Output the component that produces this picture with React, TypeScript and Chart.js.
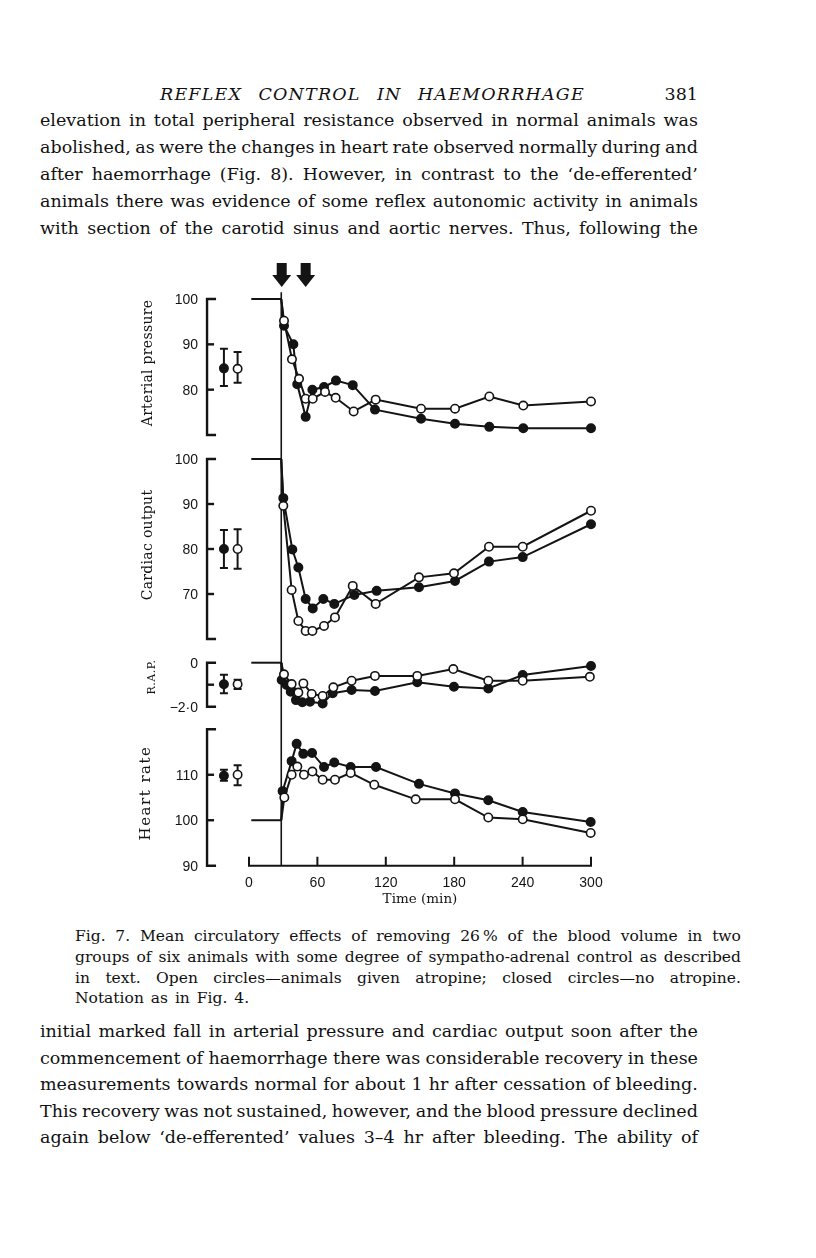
import React, { useEffect, useRef } from "react";
import { Chart, registerables } from "chart.js";

Chart.register(...registerables);

// ---------------- DATA ----------------
// Time axis (min)
const X_TICKS = [0, 60, 120, 180, 240, 300];
const BLEED_T = 28.3; // start of haemorrhage (vertical line)
const ARROW_T = [28.7, 49.7];
const BASE_START_T = 2;
const CTRL_T = [-22, -10]; // control error bars: closed, open

// Arterial pressure (% control)
const AP_TICKS = [100, 90, 80, 70];
const AP_TICK_LABELS = ["100", "90", "80", ""];
const AP_BASE = 100;
const AP_CLOSED_T = [30.7, 38.9, 42.3, 49.7, 55.6, 65.8, 76.3, 91, 110.5, 150.9, 180.7, 210.8, 240.6, 300];
const AP_CLOSED = [94.1, 90.0, 81.2, 74.0, 80.0, 80.6, 82.0, 81.0, 75.6, 73.6, 72.5, 71.8, 71.5, 71.5];
const AP_OPEN_T = [30.7, 37.7, 43.9, 49.7, 55.9, 66.7, 76, 91.8, 111.1, 150.9, 180.7, 210.8, 240.6, 300];
const AP_OPEN = [95.2, 86.7, 82.4, 78.0, 78.0, 79.5, 78.2, 75.2, 77.8, 75.8, 75.8, 78.5, 76.5, 77.4];
const AP_CTRL_CLOSED = [84.7, 80.8, 89.0]; // mean, low, high
const AP_CTRL_OPEN = [84.6, 81.5, 88.3];

// Cardiac output (% control)
const CO_TICKS = [100, 90, 80, 70, 60];
const CO_TICK_LABELS = ["100", "90", "80", "70", ""];
const CO_BASE = 100;
const CO_CLOSED_T = [30.1, 38, 43.3, 49.7, 55.9, 65.2, 74.8, 92.4, 112, 149.1, 180.7, 210.5, 240.1, 300];
const CO_CLOSED = [91.3, 79.9, 75.9, 68.9, 66.8, 68.9, 67.8, 69.8, 70.7, 71.5, 72.9, 77.2, 78.2, 85.5];
const CO_OPEN_T = [30.1, 37.4, 43.3, 49.7, 55.6, 65.8, 75.4, 91, 111.1, 149.1, 179.8, 210.5, 240.1, 300];
const CO_OPEN = [89.6, 70.9, 64.0, 61.8, 61.8, 62.9, 64.8, 71.8, 67.8, 73.7, 74.6, 80.5, 80.5, 88.5];
const CO_CTRL_CLOSED = [80, 75.8, 84.2];
const CO_CTRL_OPEN = [80, 75.6, 84.4];

// Right atrial pressure (change)
const RAP_TICKS = [0, -1, -2];
const RAP_TICK_LABELS = ["0", "", "\u22122\u00b70"];
const RAP_BASE = 0;
const RAP_CLOSED_T = [28.7, 33, 36.6, 41.2, 46.8, 53.5, 64.6, 73.4, 90, 110.5, 147.6, 179.8, 209.9, 240.1, 300];
const RAP_CLOSED = [-0.79, -1.01, -1.32, -1.7, -1.8, -1.77, -1.85, -1.39, -1.24, -1.29, -0.89, -1.09, -1.17, -0.56, -0.15];
const RAP_OPEN_T = [30.7, 37.4, 43.3, 47.7, 55, 64.6, 74, 90, 110.5, 147.6, 179.2, 209.9, 240.1, 299];
const RAP_OPEN = [-0.53, -0.97, -1.36, -0.94, -1.42, -1.51, -1.12, -0.82, -0.6, -0.6, -0.29, -0.82, -0.82, -0.64];
const RAP_CTRL_CLOSED = [-0.98, -1.39, -0.55];
const RAP_CTRL_OPEN = [-0.98, -1.2, -0.78];

// Heart rate (% control)
const HR_TICKS = [120, 110, 100, 90];
const HR_TICK_LABELS = ["", "110", "100", "90"];
const HR_BASE = 100;
const HR_CLOSED_T = [29.5, 37.4, 41.8, 47.6, 55.3, 65.8, 74.8, 89.2, 111.4, 149.1, 180.7, 209.9, 240.1, 299.7];
const HR_CLOSED = [106.4, 113, 116.8, 114.6, 114.8, 111.7, 112.7, 111.7, 111.7, 108, 105.9, 104.4, 101.8, 99.6];
const HR_OPEN_T = [31, 37.4, 42.4, 48.2, 55.6, 64.6, 75.4, 89.2, 109.9, 146.2, 180.7, 209.9, 240.1, 299.7];
const HR_OPEN = [105, 110, 111.8, 110, 110.7, 108.9, 108.9, 110.4, 107.8, 104.6, 104.6, 100.6, 100.2, 97.2];
const HR_CTRL_CLOSED = [109.8, 108.7, 111.1];
const HR_CTRL_OPEN = [110, 107.7, 112.1];

// ---------------- TEXT ----------------
const HEADER_WORDS = ["REFLEX", "CONTROL", "IN", "HAEMORRHAGE"];
const PAGE_NO = "381";
const TOP_LINES = [
  "elevation in total peripheral resistance observed in normal animals was",
  "abolished, as were the changes in heart rate observed normally during and",
  "after haemorrhage (Fig. 8). However, in contrast to the \u2018de-efferented\u2019",
  "animals there was evidence of some reflex autonomic activity in animals",
  "with section of the carotid sinus and aortic nerves. Thus, following the",
];
const CAPTION_LINES = [
  "Fig. 7. Mean circulatory effects of removing 26\u2009% of the blood volume in two",
  "groups of six animals with some degree of sympatho-adrenal control as described",
  "in text. Open circles\u2014animals given atropine; closed circles\u2014no atropine.",
];
const CAPTION_LAST = "Notation as in Fig. 4.";
const BOTTOM_LINES = [
  "initial marked fall in arterial pressure and cardiac output soon after the",
  "commencement of haemorrhage there was considerable recovery in these",
  "measurements towards normal for about 1 hr after cessation of bleeding.",
  "This recovery was not sustained, however, and the blood pressure declined",
  "again below \u2018de-efferented\u2019 values 3\u20134 hr after bleeding. The ability of",
];
const X_TITLE = "Time (min)";

// ---------------- LAYOUT ----------------
const INK = "#141414";
const SERIF = '"DejaVu Serif", "Liberation Serif", serif';
const SANS = '"Liberation Sans", Arial, sans-serif';

const CANVAS_LEFT = 100;
const CANVAS_TOP = 250;
const CANVAS_W = 540;
const CANVAS_H = 670;

const X0_PX = 249; // page x of t=0
const PX_PER_MIN = 1.14;
const X_MIN = -40;
const X_MAX = 305;
const AREA_TOP = 258; // page y
const AREA_BOTTOM = 875; // page y
const Y_AXIS_T = -36.8;

function yRange(vHi: number, pHi: number, vLo: number, pLo: number) {
  const k = (pLo - pHi) / (vHi - vLo);
  return { min: vLo - (AREA_BOTTOM - pLo) / k, max: vHi + (pHi - AREA_TOP) / k };
}

const PANELS = [
  { id: "yAP", range: yRange(100, 299, 70, 435), ticks: AP_TICKS, labels: AP_TICK_LABELS, title: "Arterial pressure", tx: 148, ty: 363, tfont: `14px ${SERIF}`, spacing: "0.3px", ctrlC: AP_CTRL_CLOSED, ctrlO: AP_CTRL_OPEN },
  { id: "yCO", range: yRange(100, 459, 60, 639), ticks: CO_TICKS, labels: CO_TICK_LABELS, title: "Cardiac output", tx: 148, ty: 545, tfont: `14px ${SERIF}`, spacing: "0.3px", ctrlC: CO_CTRL_CLOSED, ctrlO: CO_CTRL_OPEN },
  { id: "yRAP", range: yRange(0, 662.7, -2, 706.7), ticks: RAP_TICKS, labels: RAP_TICK_LABELS, title: "R.A.P.", tx: 152, ty: 677, tfont: `11px ${SERIF}`, spacing: "0.5px", ctrlC: RAP_CTRL_CLOSED, ctrlO: RAP_CTRL_OPEN },
  { id: "yHR", range: yRange(120, 729.3, 90, 865.7), ticks: HR_TICKS, labels: HR_TICK_LABELS, title: "Heart rate", tx: 146, ty: 793, tfont: `15px ${SERIF}`, spacing: "1.5px", ctrlC: HR_CTRL_CLOSED, ctrlO: HR_CTRL_OPEN },
];

const framePlugin = {
  id: "frame",
  beforeDatasetsDraw(chart: any) {
    const ctx = chart.ctx as CanvasRenderingContext2D;
    const xs = chart.scales.x;
    const cx = (t: number) => xs.getPixelForValue(t);
    const ax = cx(Y_AXIS_T);
    ctx.save();
    ctx.strokeStyle = INK;
    ctx.fillStyle = INK;
    ctx.lineCap = "butt";
    for (const p of PANELS) {
      const ys = chart.scales[p.id];
      const vTop = p.ticks[0];
      const vBot = p.ticks[p.ticks.length - 1];
      const yTop = ys.getPixelForValue(vTop);
      const yBot = ys.getPixelForValue(vBot);
      ctx.lineWidth = 2.4;
      ctx.beginPath();
      ctx.moveTo(ax + 9, yTop);
      ctx.lineTo(ax, yTop);
      ctx.lineTo(ax, yBot);
      ctx.lineTo(ax + 9, yBot);
      ctx.stroke();
      for (let i = 1; i < p.ticks.length - 1; i++) {
        const y = ys.getPixelForValue(p.ticks[i]);
        ctx.beginPath();
        ctx.moveTo(ax - 1, y);
        ctx.lineTo(ax + 7, y);
        ctx.stroke();
      }
      ctx.font = `14px ${SANS}`;
      ctx.textAlign = "right";
      ctx.textBaseline = "middle";
      p.ticks.forEach((v, i) => {
        if (p.labels[i]) ctx.fillText(p.labels[i], ax - 9, ys.getPixelForValue(v) + 1);
      });
      // axis title
      ctx.save();
      ctx.translate(p.tx - CANVAS_LEFT, p.ty - CANVAS_TOP);
      ctx.rotate(-Math.PI / 2);
      ctx.font = p.tfont;
      (ctx as any).letterSpacing = p.spacing;
      ctx.textAlign = "center";
      ctx.textBaseline = "middle";
      ctx.fillText(p.title, 0, 0);
      ctx.restore();
      // control whiskers
      ctx.lineWidth = 2;
      [p.ctrlC, p.ctrlO].forEach((c, j) => {
        const x = cx(CTRL_T[j]);
        const yl = ys.getPixelForValue(c[1]);
        const yh = ys.getPixelForValue(c[2]);
        ctx.beginPath();
        ctx.moveTo(x, yl);
        ctx.lineTo(x, yh);
        ctx.moveTo(x - 4, yl);
        ctx.lineTo(x + 4, yl);
        ctx.moveTo(x - 4, yh);
        ctx.lineTo(x + 4, yh);
        ctx.stroke();
      });
    }
    // vertical haemorrhage line
    const vx = cx(BLEED_T);
    ctx.lineWidth = 1.6;
    ctx.beginPath();
    ctx.moveTo(vx, chart.scales.yAP.getPixelForValue(101.5));
    ctx.lineTo(vx, chart.scales.yHR.getPixelForValue(90));
    ctx.stroke();
    // x axis
    const xy = chart.scales.yHR.getPixelForValue(90);
    ctx.lineWidth = 2;
    ctx.beginPath();
    ctx.moveTo(cx(X_TICKS[0]) - 1, xy);
    ctx.lineTo(cx(X_TICKS[X_TICKS.length - 1]) + 1, xy);
    for (const t of X_TICKS) {
      ctx.moveTo(cx(t), xy);
      ctx.lineTo(cx(t), xy - 9);
    }
    ctx.stroke();
    ctx.font = `14px ${SANS}`;
    ctx.textAlign = "center";
    ctx.textBaseline = "middle";
    for (const t of X_TICKS) ctx.fillText(String(t), cx(t), xy + 17);
    ctx.font = `13.5px ${SERIF}`;
    ctx.fillText(X_TITLE, cx(150), 899 - CANVAS_TOP);
    // arrows
    for (const t of ARROW_T) {
      const x = cx(t);
      const y0 = 263 - CANVAS_TOP, y1 = 275 - CANVAS_TOP, y2 = 287 - CANVAS_TOP;
      ctx.beginPath();
      ctx.moveTo(x - 5, y0);
      ctx.lineTo(x + 5, y0);
      ctx.lineTo(x + 5, y1);
      ctx.lineTo(x + 9.5, y1);
      ctx.lineTo(x, y2);
      ctx.lineTo(x - 9.5, y1);
      ctx.lineTo(x - 5, y1);
      ctx.closePath();
      ctx.fill();
    }
    ctx.restore();
  },
};

function series(ts: number[], vs: number[], base: number, yAxisID: string, open: boolean) {
  const data = [{ x: BLEED_T, y: base }, ...ts.map((t, i) => ({ x: t, y: vs[i] }))];
  return {
    data,
    yAxisID,
    borderColor: INK,
    borderWidth: 2,
    pointRadius: data.map((_, i) => (i === 0 ? 0 : 4.2)),
    pointBackgroundColor: open ? "#ffffff" : INK,
    pointBorderColor: INK,
    pointBorderWidth: 1.6,
    tension: 0,
    order: open ? 1 : 2,
    clip: false as any,
  };
}

function baseline(base: number, yAxisID: string) {
  return {
    data: [{ x: BASE_START_T, y: base }, { x: BLEED_T, y: base }],
    yAxisID,
    borderColor: INK,
    borderWidth: 2,
    pointRadius: 0,
    tension: 0,
    order: 3,
    clip: false as any,
  };
}

function marker(t: number, v: number, yAxisID: string, open: boolean) {
  return {
    data: [{ x: t, y: v }],
    yAxisID,
    showLine: false,
    pointRadius: 4.2,
    pointBackgroundColor: open ? "#ffffff" : INK,
    pointBorderColor: INK,
    pointBorderWidth: 1.6,
    order: 0,
    clip: false as any,
  };
}

function Line({ text, left, width, centerY, font, lh }: any) {
  const words = text.split(" ");
  return (
    <div
      style={{
        position: "absolute",
        left,
        width,
        top: centerY - lh / 2,
        height: lh,
        lineHeight: `${lh}px`,
        display: "flex",
        justifyContent: "space-between",
        whiteSpace: "nowrap",
        font,
        color: "#111",
      }}
    >
      {words.map((w: string, i: number) => (
        <span key={i}>{w}</span>
      ))}
    </div>
  );
}

export default function App() {
  const ref = useRef<HTMLCanvasElement | null>(null);
  useEffect(() => {
    if (!ref.current) return;
    const padLeft = X0_PX + X_MIN * PX_PER_MIN - CANVAS_LEFT;
    const padRight = CANVAS_LEFT + CANVAS_W - (X0_PX + X_MAX * PX_PER_MIN);
    const datasets: any[] = [
      series(AP_CLOSED_T, AP_CLOSED, AP_BASE, "yAP", false),
      series(AP_OPEN_T, AP_OPEN, AP_BASE, "yAP", true),
      series(CO_CLOSED_T, CO_CLOSED, CO_BASE, "yCO", false),
      series(CO_OPEN_T, CO_OPEN, CO_BASE, "yCO", true),
      series(RAP_CLOSED_T, RAP_CLOSED, RAP_BASE, "yRAP", false),
      series(RAP_OPEN_T, RAP_OPEN, RAP_BASE, "yRAP", true),
      series(HR_CLOSED_T, HR_CLOSED, HR_BASE, "yHR", false),
      series(HR_OPEN_T, HR_OPEN, HR_BASE, "yHR", true),
      baseline(AP_BASE, "yAP"),
      baseline(CO_BASE, "yCO"),
      baseline(RAP_BASE, "yRAP"),
      baseline(HR_BASE, "yHR"),
    ];
    PANELS.forEach((p) => {
      datasets.push(marker(CTRL_T[0], p.ctrlC[0], p.id, false));
      datasets.push(marker(CTRL_T[1], p.ctrlO[0], p.id, true));
    });
    const scales: any = {
      x: { type: "linear", min: X_MIN, max: X_MAX, display: false },
    };
    PANELS.forEach((p) => {
      scales[p.id] = { type: "linear", min: p.range.min, max: p.range.max, display: false };
    });
    const chart = new Chart(ref.current, {
      type: "line",
      data: { datasets },
      options: {
        animation: false,
        responsive: false,
        maintainAspectRatio: false,
        devicePixelRatio: 1,
        events: [],
        layout: {
          padding: {
            left: padLeft,
            right: padRight,
            top: AREA_TOP - CANVAS_TOP,
            bottom: CANVAS_TOP + CANVAS_H - AREA_BOTTOM,
          },
        },
        plugins: { legend: { display: false }, tooltip: { enabled: false } },
        scales,
      } as any,
      plugins: [framePlugin],
    });
    return () => chart.destroy();
  }, []);

  const bodyFont = `17.5px ${SERIF}`;
  const capFont = `15.5px ${SERIF}`;
  const topY = [122, 149, 176, 203, 230];
  const capY = [937, 958, 979];
  const botY = [1033, 1060, 1086, 1113, 1139];

  return (
    <div style={{ position: "relative", width: 816, height: 1258, background: "#fff", margin: -8 }}>
      <div
        style={{
          position: "absolute",
          left: 160,
          width: 425,
          top: 82,
          display: "flex",
          justifyContent: "space-between",
          font: `italic 17.5px ${SERIF}`,
          letterSpacing: "1.2px",
          color: "#111",
          lineHeight: "24px",
        }}
      >
        {HEADER_WORDS.map((w, i) => (
          <span key={i}>{w}</span>
        ))}
      </div>
      <div style={{ position: "absolute", left: 650, width: 48, top: 82, textAlign: "right", font: `17.5px ${SERIF}`, color: "#111", lineHeight: "24px" }}>
        {PAGE_NO}
      </div>
      {TOP_LINES.map((t, i) => (
        <Line key={"t" + i} text={t} left={40} width={658} centerY={topY[i]} font={bodyFont} lh={24} />
      ))}
      <canvas
        ref={ref}
        width={CANVAS_W}
        height={CANVAS_H}
        style={{ position: "absolute", left: CANVAS_LEFT, top: CANVAS_TOP, width: CANVAS_W, height: CANVAS_H }}
      />
      {CAPTION_LINES.map((t, i) => (
        <Line key={"c" + i} text={t} left={75} width={666} centerY={capY[i]} font={capFont} lh={20} />
      ))}
      <div style={{ position: "absolute", left: 75, top: 999 - 10, lineHeight: "20px", font: capFont, color: "#111", wordSpacing: "2px" }}>
        {CAPTION_LAST}
      </div>
      {BOTTOM_LINES.map((t, i) => (
        <Line key={"b" + i} text={t} left={40} width={658} centerY={botY[i]} font={bodyFont} lh={24} />
      ))}
    </div>
  );
}
